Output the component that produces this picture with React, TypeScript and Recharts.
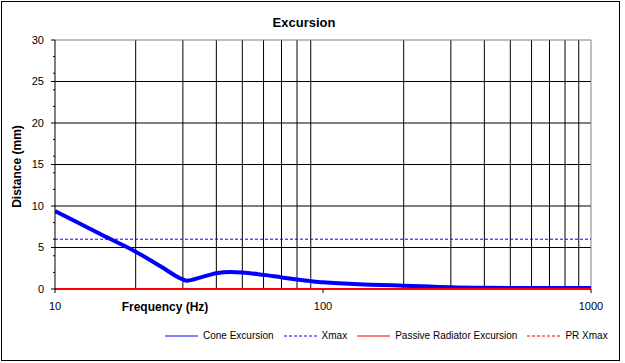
import { CartesianGrid, Legend, Line, LineChart, ReferenceLine, XAxis, YAxis } from "recharts"

const freqs = [10, 12, 15, 20, 25, 30, 31, 35, 40, 45, 50, 60, 70, 80, 90, 100, 110, 130, 150, 200, 250, 300, 400, 600, 1000]
const coneExcursion = [9.4, 8.1, 6.5, 4.5, 2.65, 1.15, 1.0, 1.4, 1.9, 2.05, 2.0, 1.7, 1.4, 1.15, 0.95, 0.8, 0.72, 0.6, 0.52, 0.4, 0.3, 0.2, 0.14, 0.12, 0.12]
const prExcursion = [0, 0, 0, 0, 0, 0, 0, 0, 0, 0, 0, 0, 0, 0, 0, 0, 0, 0, 0, 0, 0, 0, 0, 0, 0]

const xmaxFreqs = [10, 1000]
const xmaxValues = [6, 6]
const prXmaxValues = [0, 0]

const xTicks = [10, 100, 1000]
const gridFreqs = [20, 30, 40, 50, 60, 70, 80, 90, 200, 300, 400, 500, 600, 700, 800, 900]
const yTicks = [0, 2, 4, 5, 6, 8, 10, 12, 14, 15, 16, 18, 20, 22, 24, 25, 26, 28, 30]
const yGrid = [5, 10, 15, 20, 25]
const legendOrder = ["Cone Excursion", "Xmax", "Passive Radiator Excursion", "PR Xmax"]

const data = freqs.map((f, i) => ({ freq: f, cone: coneExcursion[i], pr: prExcursion[i] }))
const xmaxData = xmaxFreqs.map((f, i) => ({ freq: f, value: xmaxValues[i] }))
const prXmaxData = xmaxFreqs.map((f, i) => ({ freq: f, value: prXmaxValues[i] }))

const font = "'Liberation Sans', Arial, sans-serif"

function YTick(props: any) {
  const { x, y, payload } = props
  const major = payload.value % 5 === 0
  return (
    <g>
      <line x1={x + (major ? 7 : 9)} x2={x + 11} y1={y} y2={y} stroke="#000" />
      {major && (
        <text x={x} y={y} dy="0.36em" textAnchor="end" fontSize={11} fontFamily={font} fill="#000">
          {payload.value}
        </text>
      )}
    </g>
  )
}

function LegendContent(props: any) {
  const items = [...(props.payload || [])].sort(
    (a: any, b: any) => legendOrder.indexOf(a.value) - legendOrder.indexOf(b.value)
  )
  return (
    <div style={{ display: "flex", alignItems: "center", fontFamily: font, fontSize: 10, color: "#000" }}>
      {items.map((entry: any, i: number) => (
        <div key={i} style={{ display: "flex", alignItems: "center", marginRight: 10 }}>
          <svg width={33} height={4} style={{ marginRight: 5 }}>
            <line x1={0} x2={33} y1={2} y2={2} stroke={entry.color} strokeWidth={1.2}
              strokeDasharray={entry.payload?.strokeDasharray} />
          </svg>
          <span>{entry.value}</span>
        </div>
      ))}
    </div>
  )
}

export default function App() {
  return (
    <div style={{ position: "absolute", left: 0, top: 0, width: 625, height: 363, background: "#fff" }}>
      <div style={{ position: "absolute", left: 0, top: 15, width: 608, textAlign: "center", fontFamily: font, fontSize: 13, fontWeight: "bold" }}>
        Excursion
      </div>
      <LineChart width={625} height={363} data={data} margin={{ top: 40, right: 34, left: 0, bottom: 20 }}>
        <CartesianGrid horizontalValues={yGrid} vertical={false} stroke="#000" />
        {gridFreqs.map((f) => (
          <ReferenceLine key={f} x={f} stroke="#000" />
        ))}
        <XAxis
          dataKey="freq"
          type="number"
          scale="log"
          domain={[10, 1000]}
          allowDataOverflow
          ticks={xTicks}
          height={30}
          axisLine={false}
          tickLine={{ stroke: "#000" }}
          tickSize={4}
          tickMargin={9}
          tick={{ fontSize: 11, fontFamily: font, fill: "#000" }}
          label={{
            content: (p: any) => (
              <text x={p.viewBox.x + 110} y={p.viewBox.y + 22} textAnchor="middle" fontSize={12} fontWeight="bold" fontFamily={font} fill="#000">
                Frequency (Hz)
              </text>
            ),
          }}
        />
        <YAxis
          type="number"
          domain={[0, 30]}
          ticks={yTicks}
          width={55}
          stroke="#000"
          tickSize={4}
          tickMargin={7}
          tickLine={false}
          tick={<YTick />}
          interval={0}
          label={{
            content: (p: any) => {
              const cx = p.viewBox.x + 17
              const cy = p.viewBox.y + p.viewBox.height / 2 + 2
              return (
                <text x={cx} y={cy} transform={`rotate(-90, ${cx}, ${cy})`} textAnchor="middle" dominantBaseline="central"
                  fontSize={12} fontWeight="bold" fontFamily={font} fill="#000">
                  Distance (mm)
                </text>
              )
            },
          }}
        />
        <ReferenceLine y={30} stroke="#808080" />
        <ReferenceLine x={1000} stroke="#808080" />
        <Legend height={24} content={<LegendContent />} wrapperStyle={{ left: 165, top: 330, width: 460 }} />
        <Line name="Cone Excursion" dataKey="cone" stroke="#0000ff" strokeWidth={4} type="monotone" dot={false} activeDot={false} isAnimationActive={false} />
        <Line name="Xmax" data={xmaxData} dataKey="value" stroke="#0000ff" strokeWidth={1} strokeDasharray="3 2" dot={false} activeDot={false} isAnimationActive={false} />
        <Line name="Passive Radiator Excursion" dataKey="pr" stroke="#ff0000" strokeWidth={2} type="monotone" dot={false} activeDot={false} isAnimationActive={false} />
        <Line name="PR Xmax" data={prXmaxData} dataKey="value" stroke="#ff0000" strokeWidth={1} strokeDasharray="3 2" dot={false} activeDot={false} isAnimationActive={false} />
      </LineChart>
      <div style={{ position: "absolute", left: 1, top: 1, width: 619, height: 360, border: "1px solid #000", boxSizing: "border-box", pointerEvents: "none" }} />
    </div>
  )
}
